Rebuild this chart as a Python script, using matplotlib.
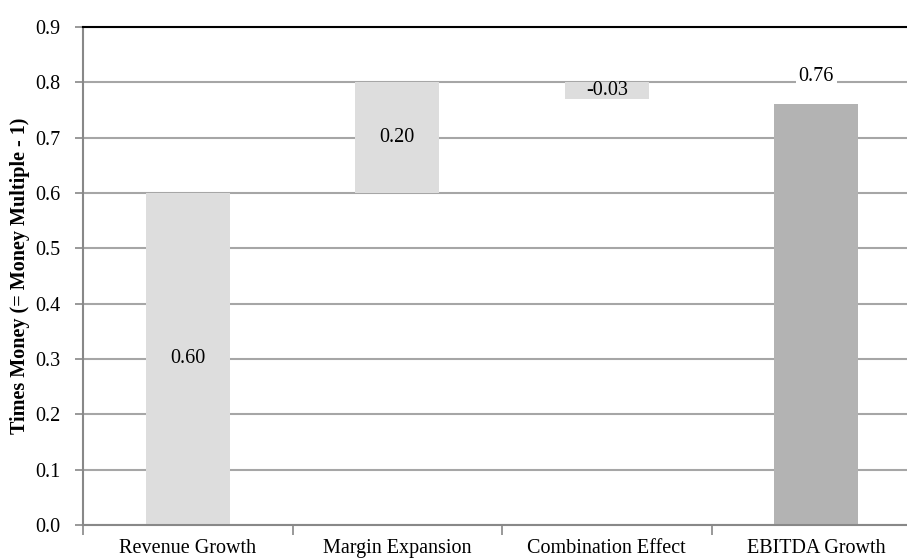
import matplotlib.pyplot as plt

# waterfall: contributions to times money
categorias = ["Revenue Growth", "Margin Expansion", "Combination Effect", "EBITDA Growth"]
valores = [0.60, 0.20, -0.03, 0.76]
etiquetas = ["0.60", "0.20", "-0.03", "0.76"]

plt.rcParams['font.family'] = ['Liberation Serif', 'DejaVu Serif']

fig = plt.figure(figsize=(9.07, 5.59), dpi=100)
ax = fig.add_axes([0.0915, 0.0608, 0.924, 0.891])

# bases of the floating bars
bases = []
acum = 0.0
for v in valores[:-1]:
    bases.append(acum)
    acum += v
bases.append(0.0)

colores = ["#dddddd", "#dddddd", "#dddddd", "#b3b3b3"]
x = range(len(categorias))
ax.bar(x, valores, bottom=bases, width=0.40, color=colores, zorder=2)

# labels
for i, (v, b, t) in enumerate(zip(valores, bases, etiquetas)):
    if i == len(valores) - 1:
        ax.annotate(t, (i, b + v), xytext=(0, 13), textcoords="offset points",
                    ha="center", va="bottom", fontsize=14.5,
                    bbox=dict(facecolor="white", edgecolor="none", pad=2), zorder=4)
    else:
        ax.text(i, b + v / 2, t, ha="center", va="center", fontsize=14.5, zorder=4)

ax.set_xlim(-0.5, 3.5)
ax.set_ylim(0, 0.9)
ax.set_yticks([i / 10 for i in range(10)])
ax.set_yticklabels([f"{i / 10:.1f}" for i in range(10)], fontsize=14.5)

ax.set_xticks([-0.5, 0.5, 1.5, 2.5])
ax.set_xticks(list(x), minor=True)
ax.set_xticklabels(["", "", "", ""])
ax.set_xticklabels(categorias, minor=True, fontsize=14.5)
ax.tick_params(axis="x", which="major", length=7, color="#888888", width=1.2)
ax.tick_params(axis="x", which="minor", length=0, pad=10)
ax.tick_params(axis="y", length=6, color="#888888", width=1.2, pad=10)

ax.yaxis.grid(True, color="#a6a6a6", linewidth=1.5, zorder=0)
ax.set_axisbelow(True)

for lado in ["left", "bottom"]:
    ax.spines[lado].set_color("#888888")
    ax.spines[lado].set_linewidth(1.5)
ax.spines["right"].set_visible(False)
ax.spines["top"].set_color("black")
ax.spines["top"].set_linewidth(1.5)

ax.set_ylabel("Times Money (= Money Multiple - 1)", fontsize=14.5, fontweight="bold", labelpad=4)

fig.savefig("out.png", dpi=100)
